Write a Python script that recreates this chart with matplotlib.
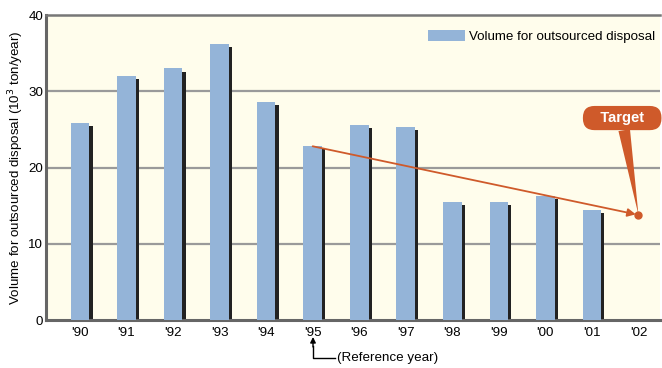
import matplotlib.pyplot as plt
import numpy as np

plt.rcParams['font.family'] = ['Liberation Sans', 'DejaVu Sans']

years = ["'90", "'91", "'92", "'93", "'94", "'95", "'96", "'97", "'98", "'99", "'00", "'01", "'02"]
volume = [25.8, 32.0, 33.0, 36.2, 28.6, 22.9, 25.6, 25.3, 15.5, 15.5, 16.3, 14.5]
ref_value = 22.8
target_value = 13.8

bar_color = '#94b4d8'
orange = '#cf5a2a'
bg = '#fffdec'
fs = 9.6

fig = plt.figure(figsize=(6.62, 3.68), dpi=100)
ax = fig.add_axes([0.0695, 0.130, 0.928, 0.829])
ax.set_facecolor(bg)

x = np.arange(len(volume))
w = 0.4
# shadow bars
ax.bar(x + 0.07, np.array(volume) - 0.4, width=w, color='#222222', zorder=2)
ax.bar(x, volume, width=w, color=bar_color, zorder=3, label='Volume for outsourced disposal')

ax.set_xlim(-0.73, 12.47)
ax.set_ylim(0, 40)
ax.set_yticks([0, 10, 20, 30, 40])
ax.set_xticks(range(len(years)))
ax.set_xticklabels(years)
ax.tick_params(axis='both', length=0, labelsize=fs, pad=5)
ax.tick_params(axis='y', pad=2)
for yv in [10, 20, 30]:
    ax.axhline(yv, color='#9a9a9a', lw=1.6, zorder=1)
for s in ['left', 'bottom']:
    ax.spines[s].set_color('#666666')
    ax.spines[s].set_linewidth(2.2)
ax.spines['top'].set_color('#777777')
ax.spines['top'].set_linewidth(1.8)
ax.spines['right'].set_visible(False)

ax.set_ylabel('Volume for outsourced disposal (10$^3$ ton/year)', fontsize=fs)
ax.yaxis.set_label_coords(-0.032, 0.5)

leg = ax.legend(loc='upper right', fontsize=fs, frameon=False, handlelength=2.75,
                handleheight=0.9, handletextpad=0.3, borderaxespad=0,
                bbox_to_anchor=(1.0, 0.97))

# trend arrow from reference year to target
ax.annotate('', xy=(12, target_value), xytext=(5, ref_value),
            arrowprops=dict(arrowstyle='-|>', color=orange, lw=1.3,
                            mutation_scale=12, shrinkA=0, shrinkB=2), zorder=5)
ax.plot(12, target_value, 'o', color=orange, ms=5, zorder=6)

# callout
ax.annotate('   Target   ', xy=(12, target_value), xytext=(11.65, 26.5),
            ha='center', va='center', fontsize=10.5, fontweight='bold', color='white',
            bbox=dict(boxstyle='round,pad=0.35,rounding_size=0.8', fc=orange, ec='none'),
            arrowprops=dict(arrowstyle='wedge,tail_width=0.8', fc=orange, ec='none',
                            shrinkA=0, shrinkB=0), zorder=7)

# reference year marker
fig.text(337 / 662, 1 - 358 / 368, '(Reference year)', fontsize=fs, va='center', ha='left')
fig.add_artist(plt.Line2D([313 / 662, 313 / 662, 335 / 662],
                          [1 - 346 / 368, 1 - 358 / 368, 1 - 358 / 368],
                          color='black', lw=1))
ax.annotate('', xy=(313 / 662, 1 - 337 / 368), xytext=(313 / 662, 1 - 347 / 368),
            xycoords='figure fraction', textcoords='figure fraction',
            arrowprops=dict(arrowstyle='-|>', color='black', lw=1, mutation_scale=8,
                            shrinkA=0, shrinkB=0))

fig.savefig('out.png', dpi=100, facecolor='white')
